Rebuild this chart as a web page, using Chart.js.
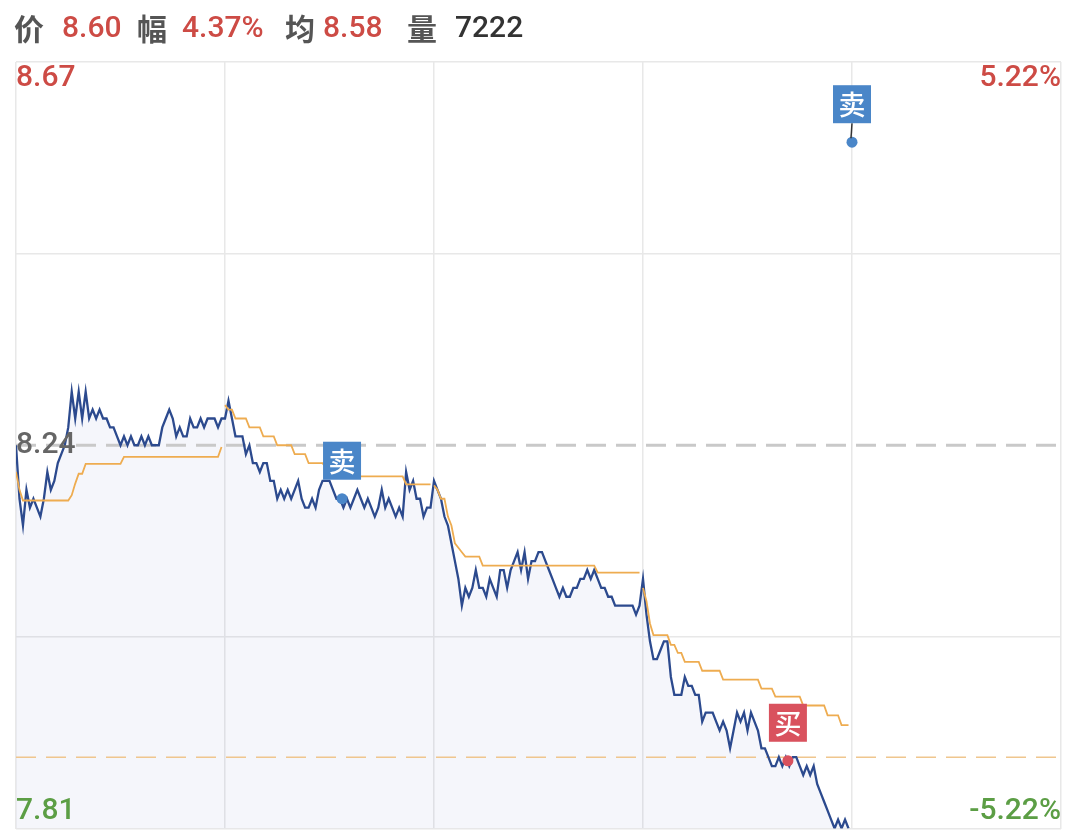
<!doctype html>
<html lang="zh">
<head>
  <meta charset="utf-8">
  <title>分时走势</title>
  <script src="https://cdn.jsdelivr.net/npm/chart.js"></script>
  <style>
    html, body { margin: 0; padding: 0; background: #fff; }
    .wrap { position: relative; width: 1078px; height: 834px; overflow: hidden; }
    #chart { position: absolute; left: 0; top: 0; }
    .head span { position: absolute; top: 10px; font-size: 30px; line-height: 34px; white-space: nowrap; }
    .head .k { font-family: "Noto Sans CJK SC"; font-weight: 700; color: #555; }
    .head .v { font-family: Roboto, sans-serif; font-weight: 500; color: #cd4b45; }
    .head .n { font-family: Roboto, sans-serif; font-weight: 500; color: #333; }
  </style>
</head>
<body>
  <div class="wrap">
    <canvas id="chart" width="1078" height="834"></canvas>
    <!-- quote header -->
    <div class="head">
      <span class="k" style="left:14px">价</span>
      <span class="v" style="left:62px">8.60</span>
      <span class="k" style="left:137px">幅</span>
      <span class="v" style="left:182px">4.37%</span>
      <span class="k" style="left:285px">均</span>
      <span class="v" style="left:323px">8.58</span>
      <span class="k" style="left:407px">量</span>
      <span class="n" style="left:455px">7222</span>
    </div>
  </div>

  <script>
    // === DATA ===
    const perDay = 60;         // samples per trading day
    const dayCount = 5;        // columns on the chart
    const yMin = 7.81, yMax = 8.67;
    const prevClose = 8.24;
    const buyPrice = 7.89;
    const priceLabels = ['8.67', '8.24', '7.81'];
    const pctLabels = ['5.22%', '-5.22%'];

    const price1 = [8.24, 8.18, 8.15, 8.19, 8.17, 8.18, 8.17, 8.16, 8.18, 8.21,
      8.19, 8.20, 8.22, 8.23, 8.24, 8.26, 8.30, 8.27, 8.30, 8.27,
      8.30, 8.27, 8.28, 8.27, 8.28, 8.27, 8.27, 8.26, 8.26, 8.25,
      8.24, 8.25, 8.24, 8.25, 8.24, 8.24, 8.25, 8.24, 8.25, 8.24,
      8.24, 8.24, 8.26, 8.27, 8.28, 8.27, 8.25, 8.26, 8.25, 8.25,
      8.27, 8.26, 8.26, 8.27, 8.26, 8.27, 8.27, 8.27, 8.26, 8.27];
    const avg1 = [8.21, 8.19, 8.178, 8.178, 8.178, 8.178, 8.178, 8.178, 8.178, 8.178,
      8.178, 8.178, 8.178, 8.178, 8.178, 8.178, 8.184, 8.197, 8.208, 8.208,
      8.219, 8.219, 8.219, 8.219, 8.219, 8.219, 8.219, 8.219, 8.219, 8.219,
      8.219, 8.227, 8.227, 8.227, 8.227, 8.227, 8.227, 8.227, 8.227, 8.227,
      8.227, 8.227, 8.227, 8.227, 8.227, 8.227, 8.227, 8.227, 8.227, 8.227,
      8.227, 8.227, 8.227, 8.227, 8.227, 8.227, 8.227, 8.227, 8.227, 8.238];

    const price2 = [8.27, 8.29, 8.27, 8.25, 8.25, 8.25, 8.23, 8.24, 8.22, 8.22,
      8.21, 8.22, 8.22, 8.20, 8.20, 8.18, 8.19, 8.18, 8.19, 8.18,
      8.19, 8.20, 8.18, 8.17, 8.17, 8.18, 8.17, 8.19, 8.20, 8.20,
      8.20, 8.19, 8.18, 8.18, 8.17, 8.18, 8.17, 8.18, 8.19, 8.18,
      8.17, 8.18, 8.17, 8.16, 8.17, 8.19, 8.17, 8.18, 8.17, 8.16,
      8.17, 8.16, 8.21, 8.19, 8.20, 8.18, 8.18, 8.16, 8.17, 8.17];
    const avg2 = [8.285, 8.28, 8.28, 8.27, 8.27, 8.27, 8.27, 8.26, 8.26, 8.26,
      8.26, 8.25, 8.25, 8.25, 8.25, 8.24, 8.24, 8.24, 8.24, 8.24,
      8.23, 8.23, 8.23, 8.23, 8.22, 8.22, 8.22, 8.22, 8.22, 8.215,
      8.215, 8.215, 8.215, 8.215, 8.215, 8.215, 8.215, 8.215, 8.205, 8.205,
      8.205, 8.205, 8.205, 8.205, 8.205, 8.205, 8.205, 8.205, 8.205, 8.205,
      8.205, 8.205, 8.196, 8.196, 8.196, 8.196, 8.196, 8.196, 8.196, 8.196];

    const price3 = [8.20, 8.19, 8.18, 8.16, 8.15, 8.13, 8.11, 8.09, 8.06, 8.08,
      8.07, 8.08, 8.10, 8.08, 8.08, 8.07, 8.09, 8.08, 8.07, 8.10,
      8.10, 8.08, 8.10, 8.11, 8.12, 8.10, 8.12, 8.09, 8.11, 8.11,
      8.12, 8.12, 8.11, 8.10, 8.09, 8.08, 8.07, 8.08, 8.07, 8.07,
      8.08, 8.08, 8.09, 8.09, 8.10, 8.09, 8.10, 8.09, 8.08, 8.08,
      8.07, 8.07, 8.06, 8.06, 8.06, 8.06, 8.06, 8.06, 8.05, 8.06];
    const avg3 = [8.195, 8.19, 8.18, 8.18, 8.16, 8.15, 8.13, 8.125, 8.12, 8.115,
      8.115, 8.115, 8.115, 8.115, 8.105, 8.105, 8.105, 8.105, 8.105, 8.105,
      8.105, 8.105, 8.105, 8.105, 8.105, 8.105, 8.105, 8.105, 8.105, 8.105,
      8.105, 8.105, 8.105, 8.105, 8.105, 8.105, 8.105, 8.105, 8.105, 8.105,
      8.105, 8.105, 8.105, 8.105, 8.105, 8.105, 8.105, 8.097, 8.097, 8.097,
      8.097, 8.097, 8.097, 8.097, 8.097, 8.097, 8.097, 8.097, 8.097, 8.097];

    const price4 = [8.09, 8.05, 8.02, 8.00, 8.00, 8.01, 8.02, 8.02, 7.98, 7.96,
      7.96, 7.96, 7.98, 7.97, 7.97, 7.96, 7.96, 7.93, 7.94, 7.94,
      7.94, 7.93, 7.92, 7.93, 7.92, 7.90, 7.92, 7.94, 7.93, 7.94,
      7.92, 7.94, 7.93, 7.92, 7.90, 7.90, 7.89, 7.88, 7.88, 7.89,
      7.88, 7.89, 7.88, 7.89, 7.89, 7.88, 7.87, 7.88, 7.87, 7.88,
      7.86, 7.85, 7.84, 7.83, 7.82, 7.81, 7.82, 7.81, 7.82, 7.81];
    const avg4 = [8.08, 8.065, 8.04, 8.027, 8.027, 8.027, 8.027, 8.027, 8.016, 8.016,
      8.007, 8.007, 7.997, 7.997, 7.997, 7.997, 7.997, 7.987, 7.987, 7.987,
      7.987, 7.987, 7.987, 7.977, 7.977, 7.977, 7.977, 7.977, 7.977, 7.977,
      7.977, 7.977, 7.977, 7.977, 7.967, 7.967, 7.967, 7.967, 7.958, 7.958,
      7.958, 7.958, 7.958, 7.958, 7.958, 7.958, 7.948, 7.948, 7.948, 7.948,
      7.948, 7.948, 7.948, 7.937, 7.937, 7.937, 7.937, 7.926, 7.926, 7.926];

    // trade markers (x in sample units from the first day)
    const sellX = [93.6, 240];
    const sellY = [8.18, 8.58];
    const sellStem = [false, true];
    const buyX = [221.6];
    const buyY = [7.886];

    // === BUILD SERIES ===
    const priceDays = [price1, price2, price3, price4];
    const avgDays = [avg1, avg2, avg3, avg4];

    const pricePoints = [];
    priceDays.forEach((day, d) => day.forEach((v, i) => pricePoints.push({ x: d * perDay + i, y: v })));

    const avgPoints = [];
    avgDays.forEach((day, d) => {
      day.forEach((v, i) => avgPoints.push({ x: d * perDay + i, y: v }));
      avgPoints.push({ x: d * perDay + perDay - 0.5, y: null }); // break between days
    });

    const xEnd = dayCount * perDay;

    // === COLOURS ===
    const RED = '#cd4b45', GREEN = '#5c9e45', GRAY = '#666';
    const SELL = '#4a86c8', BUY = '#d9525e';

    // === OVERLAY: axis labels and trade tags ===
    const overlay = {
      id: 'overlay',
      afterDatasetsDraw(chart) {
        const { ctx, chartArea: a, scales: { y } } = chart;
        ctx.save();
        ctx.font = '500 30px Roboto';

        // left price labels
        ctx.textAlign = 'left';
        ctx.fillStyle = RED;
        ctx.textBaseline = 'top';
        ctx.fillText(priceLabels[0], a.left, y.getPixelForValue(yMax) + 1);
        ctx.fillStyle = GRAY;
        ctx.textBaseline = 'middle';
        ctx.fillText(priceLabels[1], a.left, y.getPixelForValue(prevClose));
        ctx.fillStyle = GREEN;
        ctx.textBaseline = 'bottom';
        ctx.fillText(priceLabels[2], a.left, y.getPixelForValue(yMin) - 2);

        // right percent labels
        ctx.textAlign = 'right';
        ctx.fillStyle = RED;
        ctx.textBaseline = 'top';
        ctx.fillText(pctLabels[0], a.right, y.getPixelForValue(yMax) + 1);
        ctx.fillStyle = GREEN;
        ctx.textBaseline = 'bottom';
        ctx.fillText(pctLabels[1], a.right, y.getPixelForValue(yMin) - 2);

        // trade tags above their dots
        const tag = (pt, text, color, stem) => {
          const size = 38;
          const bx = pt.x - size / 2, by = pt.y - 19 - size;
          if (stem) {
            ctx.strokeStyle = '#333';
            ctx.lineWidth = 1.5;
            ctx.beginPath();
            ctx.moveTo(pt.x, by + size);
            ctx.lineTo(pt.x - 1, pt.y - 4);
            ctx.stroke();
          }
          ctx.fillStyle = color;
          ctx.fillRect(bx, by, size, size);
          ctx.fillStyle = '#fff';
          ctx.font = '500 27px "Noto Sans CJK SC"';
          ctx.textAlign = 'center';
          ctx.textBaseline = 'middle';
          ctx.fillText(text, pt.x, by + size / 2 + 1);
        };
        chart.getDatasetMeta(0).data.forEach((pt, i) => tag(pt, '卖', SELL, sellStem[i]));
        chart.getDatasetMeta(1).data.forEach(pt => tag(pt, '买', BUY, false));
        ctx.restore();
      }
    };

    // === CHART ===
    new Chart(document.getElementById('chart'), {
      type: 'line',
      data: {
        datasets: [
          {
            type: 'scatter', label: '卖',
            data: sellX.map((x, i) => ({ x, y: sellY[i] })),
            pointRadius: 5.5, pointBackgroundColor: SELL, pointBorderWidth: 0
          },
          {
            type: 'scatter', label: '买',
            data: buyX.map((x, i) => ({ x, y: buyY[i] })),
            pointRadius: 5.5, pointBackgroundColor: BUY, pointBorderWidth: 0
          },
          {
            label: '均价', data: avgPoints,
            borderColor: '#eeac50', borderWidth: 1.8, pointRadius: 0, spanGaps: false
          },
          {
            label: '价格', data: pricePoints,
            borderColor: '#2c4a8e', borderWidth: 2.3, pointRadius: 0,
            fill: 'start', backgroundColor: 'rgba(70,100,190,0.055)'
          },
          {
            label: '昨收', data: [{ x: 0, y: prevClose }, { x: xEnd, y: prevClose }],
            borderColor: '#c9c9c9', borderWidth: 3, borderDash: [20, 10], pointRadius: 0
          },
          {
            label: '买入价', data: [{ x: 0, y: buyPrice }, { x: xEnd, y: buyPrice }],
            borderColor: '#efc68e', borderWidth: 1.5, borderDash: [20, 10], pointRadius: 0
          }
        ]
      },
      options: {
        responsive: false,
        animation: false,
        layout: { padding: { left: 16, right: 17, top: 62, bottom: 3 } },
        plugins: {
          legend: { display: false },
          tooltip: { enabled: false },
          filler: { drawTime: 'beforeDatasetsDraw' }
        },
        scales: {
          x: {
            type: 'linear', min: 0, max: xEnd,
            ticks: { display: false, stepSize: perDay },
            grid: { color: '#e8e8e8', lineWidth: 1.5, drawTicks: false },
            border: { display: false },
            afterFit: s => { s.height = 0; }
          },
          y: {
            min: yMin, max: yMax,
            afterBuildTicks: s => {
              const step = (yMax - yMin) / 4;
              s.ticks = [0, 1, 2, 3, 4].map(k => ({ value: yMin + k * step }));
            },
            ticks: { display: false },
            grid: {
              color: c => (c.index === 2 ? 'rgba(0,0,0,0)' : '#e8e8e8'),
              lineWidth: 1.5, drawTicks: false
            },
            border: { display: false },
            afterFit: s => { s.width = 0; }
          }
        }
      },
      plugins: [overlay]
    });
  </script>
</body>
</html>
